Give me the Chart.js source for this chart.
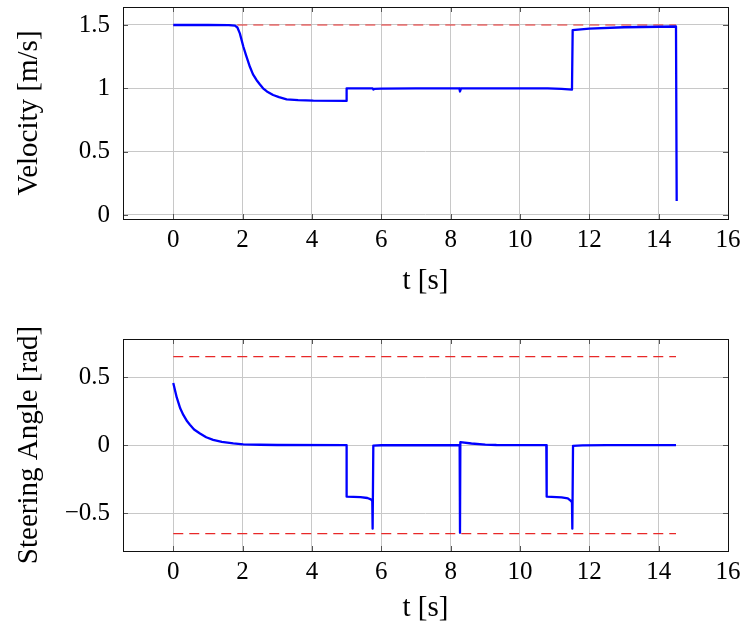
<!DOCTYPE html>
<html>
<head>
<meta charset="utf-8">
<script src="https://cdn.jsdelivr.net/npm/chart.js@4/dist/chart.umd.min.js"></script>
<style>
  body { margin: 0; background: #fff; }
  #wrap { position: relative; width: 745px; height: 632px; }
  canvas { position: absolute; left: 0; }
</style>
</head>
<body>
<div id="wrap">
  <canvas id="chart-velocity" width="745" height="316" style="top:0"></canvas>
  <canvas id="chart-steering" width="745" height="316" style="top:316px"></canvas>
</div>
<script>
// velocity [m/s] over time [s]
const velT = [0, 1.0, 1.6, 1.78, 1.85, 1.92, 2.02, 2.1, 2.21, 2.3, 2.4, 2.5, 2.59, 2.7, 2.88, 3.05, 3.27, 3.6, 4.04,
  5.0, 5.0, 5.75, 5.77, 5.8, 6.0, 7.0, 8.25, 8.27, 8.3, 10.8, 11.2, 11.5, 11.52, 12.0, 13.0, 14.0, 14.5, 14.52];
const velV = [1.5, 1.5, 1.499, 1.495, 1.48, 1.434, 1.33, 1.26, 1.17, 1.11, 1.066, 1.03, 1.0, 0.975, 0.947, 0.93, 0.913, 0.906, 0.902,
  0.9, 1.0, 1.0, 0.99, 0.995, 0.997, 1.0, 1.0, 0.975, 1.0, 1.0, 0.995, 0.99, 1.46, 1.472, 1.482, 1.486, 1.488, 0.11];
const velLimitT = [0, 14.5];
const velLimit = [1.5, 1.5];

// steering angle [rad] over time [s]
const steerT = [0, 0.1, 0.2, 0.29, 0.4, 0.48, 0.6, 0.77, 0.95, 1.15, 1.4, 1.73, 2.02, 2.5, 3.0, 5.0,
  5.0, 5.4, 5.6, 5.7, 5.74, 5.75, 5.77, 6.0, 8.26, 8.27, 8.28, 8.6, 9.0, 9.32,
  10.76, 10.77, 11.2, 11.38, 11.45, 11.5, 11.51, 11.53, 11.8, 12.5, 14.5];
const steerA = [0.456, 0.35, 0.27, 0.222, 0.175, 0.15, 0.115, 0.085, 0.058, 0.039, 0.024, 0.013, 0.006, 0.003, 0.001, 0,
  -0.378, -0.382, -0.388, -0.398, -0.41, -0.613, -0.003, -0.001, 0, -0.643, 0.022, 0.012, 0.004, 0.001,
  0, -0.378, -0.383, -0.39, -0.405, -0.42, -0.613, -0.005, -0.002, 0, 0];
const steerLimitT = [0, 14.5];
const steerMax = [0.65, 0.65];
const steerMin = [-0.65, -0.65];

const xTickStep = 2;
const velTickStep = 0.5;
const steerTickStep = 0.5;

Chart.defaults.font.family = "'Liberation Serif', 'DejaVu Serif', serif";
Chart.defaults.color = '#000';

function pts(xs, ys) {
  return xs.map((x, i) => ({ x: x, y: ys[i] }));
}

function fmt(v) {
  const r = Math.round(v * 10) / 10;
  return r < 0 ? '\u2212' + Math.abs(r) : String(r);
}

// full box around the plot + short inner tick marks, like pgfplots
const boxPlugin = {
  id: 'box',
  afterDraw(chart) {
    const { ctx, chartArea: a, scales } = chart;
    ctx.save();
    ctx.strokeStyle = '#555';
    ctx.lineWidth = 1;
    scales.x.ticks.forEach(t => {
      const px = Math.round(scales.x.getPixelForValue(t.value)) + 0.5;
      ctx.beginPath();
      ctx.moveTo(px, a.top); ctx.lineTo(px, a.top + 5);
      ctx.moveTo(px, a.bottom); ctx.lineTo(px, a.bottom - 5);
      ctx.stroke();
    });
    scales.y.ticks.forEach(t => {
      const py = Math.round(scales.y.getPixelForValue(t.value)) + 0.5;
      ctx.beginPath();
      ctx.moveTo(a.left, py); ctx.lineTo(a.left + 5, py);
      ctx.moveTo(a.right, py); ctx.lineTo(a.right - 5, py);
      ctx.stroke();
    });
    ctx.strokeStyle = '#111';
    ctx.strokeRect(Math.round(a.left) + 0.5, Math.round(a.top) + 0.5,
      Math.round(a.right - a.left), Math.round(a.bottom - a.top));
    ctx.restore();
  }
};

function makeChart(id, cfg) {
  const lineSets = [{
    data: pts(cfg.t, cfg.v),
    borderColor: '#0000ff',
    borderWidth: 2.3,
    borderJoinStyle: 'round',
    pointRadius: 0,
    tension: 0
  }];
  cfg.limits.forEach(l => lineSets.push({
    data: pts(l.t, l.v),
    borderColor: '#e82828',
    borderWidth: 1.2,
    borderDash: [10, 6],
    pointRadius: 0,
    tension: 0
  }));

  return new Chart(document.getElementById(id), {
    type: 'line',
    data: { datasets: lineSets },
    options: {
      responsive: false,
      animation: false,
      devicePixelRatio: 1,
      layout: { padding: { top: cfg.padTop, right: 17, left: 0, bottom: 0 } },
      plugins: { legend: { display: false }, tooltip: { enabled: false } },
      scales: {
        x: {
          type: 'linear',
          min: -1.45,
          max: 16,
          grid: { color: '#c8c8c8', lineWidth: 1, drawTicks: false },
          border: { display: false },
          ticks: {
            stepSize: xTickStep,
            includeBounds: false,
            padding: 6,
            maxRotation: 0,
            autoSkip: false,
            font: { size: 25 },
            callback: v => fmt(v)
          },
          title: {
            display: true,
            text: 't [s]',
            font: { size: 29 },
            padding: { top: 0, bottom: cfg.xTitlePad }
          },
          afterFit(s) {
            s.height = cfg.xHeight;
            s.paddingLeft = 0; s.paddingRight = 0;
          }
        },
        y: {
          min: cfg.yMin,
          max: cfg.yMax,
          grid: { color: '#c8c8c8', lineWidth: 1, drawTicks: false },
          border: { display: false },
          ticks: {
            stepSize: cfg.yStep,
            includeBounds: false,
            padding: 13,
            font: { size: 25 },
            callback: v => fmt(v)
          },
          title: {
            display: true,
            text: cfg.yTitle,
            font: { size: 29 },
            padding: { top: 12, bottom: 0 }
          },
          afterFit(s) {
            s.width = 123;
            s.paddingTop = 0; s.paddingBottom = 0;
          }
        }
      }
    },
    plugins: [boxPlugin]
  });
}

makeChart('chart-velocity', {
  t: velT, v: velV,
  limits: [{ t: velLimitT, v: velLimit }],
  yMin: -0.032, yMax: 1.642, yStep: velTickStep,
  yTitle: 'Velocity [m/s]',
  padTop: 7, xHeight: 97, xTitlePad: 17
});

makeChart('chart-steering', {
  t: steerT, v: steerA,
  limits: [{ t: steerLimitT, v: steerMax }, { t: steerLimitT, v: steerMin }],
  yMin: -0.777, yMax: 0.779, yStep: steerTickStep,
  yTitle: 'Steering Angle [rad]',
  padTop: 23, xHeight: 81, xTitlePad: 6
});
</script>
</body>
</html>
